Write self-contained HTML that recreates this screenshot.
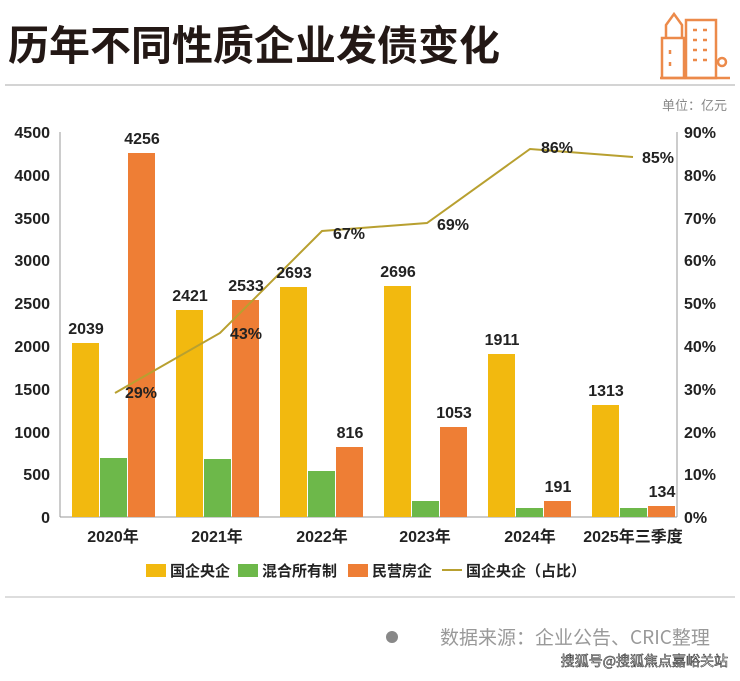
<!DOCTYPE html>
<html><head><meta charset="utf-8"><style>
body{margin:0;background:#fff;width:740px;height:676px;overflow:hidden;font-family:"Liberation Sans","Noto Sans CJK SC",sans-serif;}
</style></head><body>
<svg width="740" height="676" xmlns="http://www.w3.org/2000/svg" font-family="Liberation Sans, Noto Sans CJK SC, sans-serif">
<text x="8" y="60" font-size="41" font-weight="bold" fill="#231815" font-family="Noto Sans CJK SC, sans-serif">历年不同性质企业发债变化</text>
<g fill="none" stroke="#ec8a4a" stroke-width="2.5">
<rect x="662" y="38" width="22" height="40"/><path d="M666 38 V25 L674 14 L682 25 V38"/>
<rect x="686" y="20" width="30" height="58"/><path d="M660 78 H730"/>
<path d="M693 30h4M703 30h4M693 40h4M703 40h4M693 50h4M703 50h4M693 60h4M703 60h4M670 50v4M670 62v4"/>
<circle cx="722" cy="62" r="4"/>
</g>
<line x1="5" y1="85" x2="735" y2="85" stroke="#aaa" stroke-width="1"/>
<text x="727" y="110" font-size="13" fill="#888" text-anchor="end" font-family="Noto Sans CJK SC, sans-serif">单位：亿元</text>
<g font-size="16" font-weight="bold" fill="#222" text-anchor="end">
<text x="50" y="138">4500</text><text x="50" y="181">4000</text><text x="50" y="224">3500</text><text x="50" y="266">3000</text><text x="50" y="309">2500</text><text x="50" y="352">2000</text><text x="50" y="395">1500</text><text x="50" y="438">1000</text><text x="50" y="480">500</text><text x="50" y="523">0</text>
</g>
<g font-size="16" font-weight="bold" fill="#222" text-anchor="start">
<text x="684" y="138">90%</text><text x="684" y="181">80%</text><text x="684" y="224">70%</text><text x="684" y="266">60%</text><text x="684" y="309">50%</text><text x="684" y="352">40%</text><text x="684" y="395">30%</text><text x="684" y="438">20%</text><text x="684" y="480">10%</text><text x="684" y="523">0%</text>
</g>
<g stroke="#999" stroke-width="1"><line x1="60" y1="132" x2="60" y2="517"/><line x1="60" y1="517" x2="677" y2="517"/><line x1="677" y1="132" x2="677" y2="517"/></g>
<g fill="#f2b90f">
<rect x="72" y="343" width="27" height="174"/><rect x="176" y="310" width="27" height="207"/><rect x="280" y="287" width="27" height="230"/><rect x="384" y="286" width="27" height="231"/><rect x="488" y="354" width="27" height="163"/><rect x="592" y="405" width="27" height="112"/>
</g>
<g fill="#6db84a">
<rect x="100" y="458" width="27" height="59"/><rect x="204" y="459" width="27" height="58"/><rect x="308" y="471" width="27" height="46"/><rect x="412" y="501" width="27" height="16"/><rect x="516" y="508" width="27" height="9"/><rect x="620" y="508" width="27" height="9"/>
</g>
<g fill="#ee7e35">
<rect x="128" y="153" width="27" height="364"/><rect x="232" y="300" width="27" height="217"/><rect x="336" y="447" width="27" height="70"/><rect x="440" y="427" width="27" height="90"/><rect x="544" y="501" width="27" height="16"/><rect x="648" y="506" width="27" height="11"/>
</g>
<polyline points="115,393 220,333 322,231 427,223 530,149 633,157" fill="none" stroke="#b8a030" stroke-width="2"/>
<g font-size="16" font-weight="bold" fill="#222" text-anchor="middle">
<text x="86" y="334">2039</text><text x="142" y="144">4256</text>
<text x="190" y="301">2421</text><text x="246" y="291">2533</text>
<text x="294" y="278">2693</text><text x="350" y="438">816</text>
<text x="398" y="277">2696</text><text x="454" y="418">1053</text>
<text x="502" y="345">1911</text><text x="558" y="492">191</text>
<text x="606" y="396">1313</text><text x="662" y="497">134</text>
<text x="141" y="398">29%</text><text x="246" y="339">43%</text><text x="349" y="239">67%</text><text x="453" y="230">69%</text><text x="557" y="153">86%</text><text x="658" y="163">85%</text>
</g>
<g font-size="16" font-weight="bold" fill="#222" text-anchor="middle">
<text x="113" y="542">2020年</text><text x="217" y="542">2021年</text><text x="322" y="542">2022年</text><text x="425" y="542">2023年</text><text x="530" y="542">2024年</text><text x="633" y="542">2025年三季度</text>
</g>
<g font-size="15" font-weight="bold" fill="#222">
<rect x="146" y="564" width="20" height="13" fill="#f2b90f"/><text x="170" y="576">国企央企</text>
<rect x="238" y="564" width="20" height="13" fill="#6db84a"/><text x="262" y="576">混合所有制</text>
<rect x="348" y="564" width="20" height="13" fill="#ee7e35"/><text x="372" y="576">民营房企</text>
<line x1="442" y1="570" x2="462" y2="570" stroke="#b8a030" stroke-width="2"/><text x="466" y="576">国企央企（占比）</text>
</g>
<line x1="5" y1="597" x2="735" y2="597" stroke="#bbb" stroke-width="1"/>
<circle cx="392" cy="637" r="6" fill="#888"/>
<text x="440" y="644" font-size="19" fill="#999" font-family="Noto Sans CJK SC, sans-serif">数据来源：企业公告、CRIC整理</text>
<text x="728" y="666" font-size="14" fill="#fff" stroke="#333" stroke-width="0.6" text-anchor="end" font-family="Noto Sans CJK SC, sans-serif">搜狐号@搜狐焦点嘉峪关站</text>
</svg>
</body></html>
